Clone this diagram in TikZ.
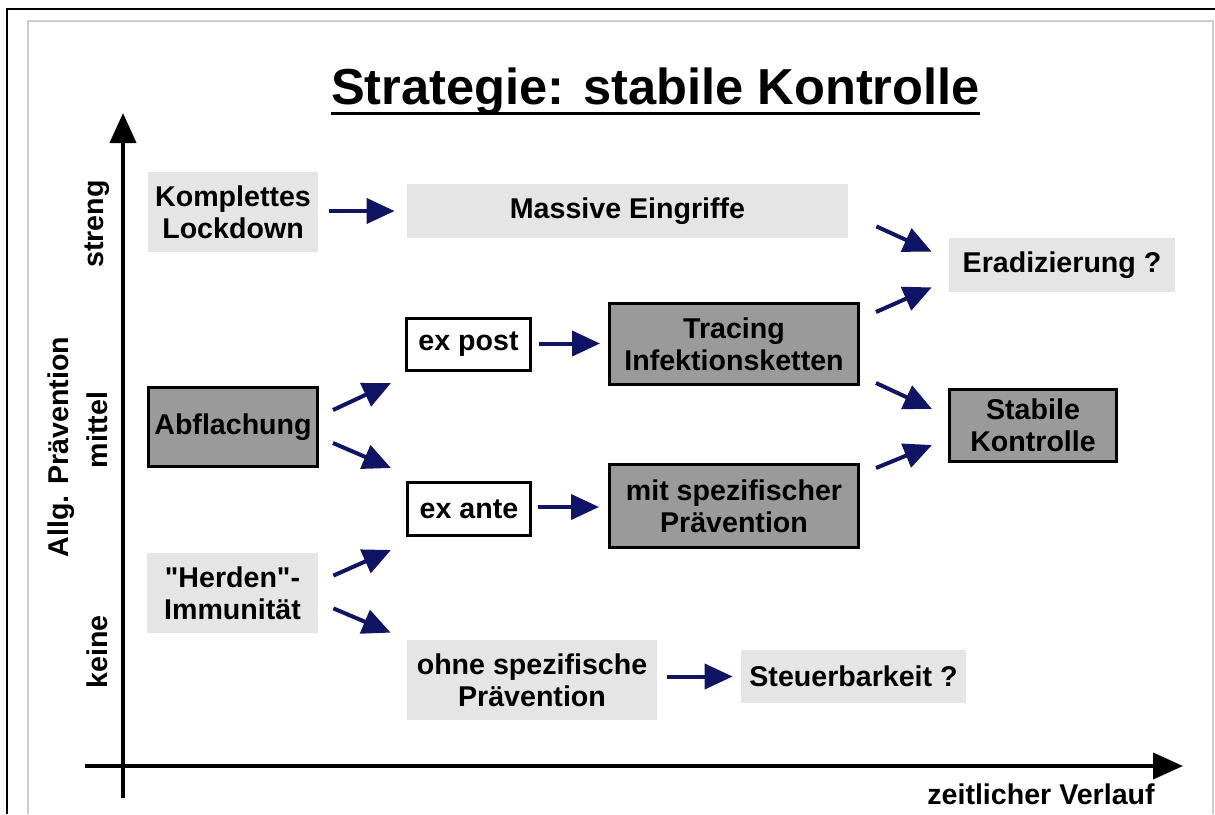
\documentclass[tikz,border=0pt]{standalone}
\usepackage{fontspec}
\setmainfont{Liberation Sans}[Ligatures=TeXOff]
\usetikzlibrary{arrows.meta,calc}
\definecolor{navy}{HTML}{0F1464}
\definecolor{lgray}{HTML}{E5E5E5}
\definecolor{dgray}{HTML}{9A9A9A}
\definecolor{framegray}{HTML}{CCCCCC}
\begin{document}
\begin{tikzpicture}[x=0.5pt,y=-0.5pt,
  txt/.style={font=\fontsize{14.3}{16}\selectfont\bfseries, align=center, text=black},
  light/.style={txt, fill=lgray, inner sep=0pt},
  dark/.style={txt, fill=dgray, draw=black, line width=1.5pt, inner sep=0pt},
  wbox/.style={txt, fill=white, draw=black, line width=1.5pt, inner sep=0pt},
  arr/.style={draw=navy, line width=2pt, -{Triangle[length=14pt,width=12.5pt]}},
  axis/.style={draw=black, line width=2pt, -{Triangle[length=15pt,width=13pt]}},
  lab/.style={font=\fontsize{14.3}{16}\selectfont\bfseries, inner sep=0pt}
]
\useasboundingbox (0,0) rectangle (1215,814);
% frames
\draw[framegray, line width=0.6pt] (28,814) -- (28,21) -- (1213,21) -- (1213,814);
\draw[black, line width=1pt] (7,814) -- (7,9) -- (1215,9);

% title
\node[font=\fontsize{25.3}{30}\selectfont\bfseries, anchor=base, inner sep=0pt] (title) at (655.5,104) {Strategie: stabile Kontrolle};
\draw[line width=1.5pt] ($(title.base west)+(0,9)$) -- ($(title.base east)+(0,9)$);

% axes
\coordinate (yb) at (123,798);
\coordinate (yt) at (123,113);
\coordinate (xl) at (85,766);
\coordinate (xr) at (1183,766);
\draw[axis] (yb) -- (yt);
\draw[axis] (xl) -- (xr);

% axis labels
\node[lab, rotate=90] (streng) at (97,224) {streng};
\node[lab, rotate=90] (mittel) at (97,430) {mittel};
\node[lab, rotate=90] (keine) at (97,652) {keine};
\node[lab, rotate=90] (allg) at (61,447) {Allg. Prävention};
\node[lab] (zeit) at (1041,794) {zeitlicher Verlauf};

% boxes
\node[light, minimum width=85pt, minimum height=40pt] (lock) at (233,212) {Komplettes\\Lockdown};
\node[light, minimum width=220.5pt, minimum height=27pt] (massive) at (627.5,211) {Massive Eingriffe};
\node[light, minimum width=113pt, minimum height=27pt] (erad) at (1062,265) {Eradizierung ?};
\node[wbox, minimum width=62pt, minimum height=26pt] (expost) at (468.5,344.5) {ex post};
\node[dark, minimum width=124.5pt, minimum height=40.5pt] (tracing) at (734,344) {Tracing\\Infektionsketten};
\node[dark, minimum width=84.5pt, minimum height=39.5pt] (abfl) at (233,427) {Abflachung};
\node[dark, minimum width=83.5pt, minimum height=36pt] (stabile) at (1033,425.5) {Stabile\\Kontrolle};
\node[wbox, minimum width=61.5pt, minimum height=26.5pt] (exante) at (469,509) {ex ante};
\node[dark, minimum width=124.5pt, minimum height=41.5pt] (mit) at (734,506) {mit spezifischer\\Prävention};
\node[light, minimum width=85.5pt, minimum height=40pt] (herden) at (232.5,593) {"Herden"-\\Immunität};
\node[light, minimum width=125pt, minimum height=40pt] (ohne) at (532,680) {ohne spezifische\\Prävention};
\node[light, minimum width=112.5pt, minimum height=26.5pt] (steuer) at (853.5,676.5) {Steuerbarkeit ?};

% connectors
\draw[arr] ($(lock.east)+(11,-1)$) -- ($(lock.east -| massive.west)+(-12,-1)$);
\draw[arr] ($(abfl.north east)+(14,24)$) -- ($(expost.south west)+(-14,11)$);
\draw[arr] ($(abfl.south east)+(14,-25)$) -- ($(exante.north west)+(-15,-13)$);
\draw[arr] ($(herden.north east)+(15,23)$) -- ($(exante.south west)+(-15,13)$);
\draw[arr] ($(herden.south east)+(15,-25)$) -- ($(ohne.north west)+(-16,-7)$);
\draw[arr] ($(expost.east)+(7,-1)$) -- ($(expost.east -| tracing.west)+(-8,-1)$);
\draw[arr] ($(exante.east)+(6,-2)$) -- ($(exante.east -| mit.west)+(-9,-2)$);
\draw[arr] ($(steuer.west -| ohne.east)+(10,0)$) -- ($(steuer.west)+(-8,0)$);
\draw[arr] ($(massive.south east)+(28,-12)$) -- ($(erad.north west)+(-17,14)$);
\draw[arr] ($(tracing.north east)+(16,10)$) -- ($(erad.south west)+(-17,-5)$);
\draw[arr] ($(tracing.south east)+(16,-3)$) -- ($(stabile.north west)+(-16,21)$);
\draw[arr] ($(mit.north east)+(16,5)$) -- ($(stabile.south west)+(-16,-18)$);
\end{tikzpicture}
\end{document}
